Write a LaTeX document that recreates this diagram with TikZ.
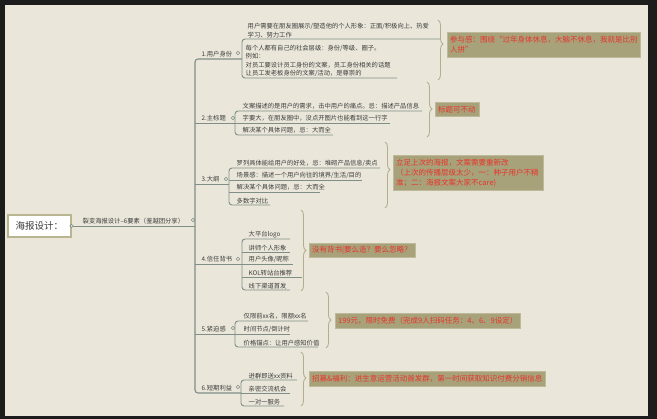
\documentclass[tikz,border=0pt]{standalone}
\usepackage{fontspec}
\setmainfont{Noto Sans CJK SC}
\usetikzlibrary{decorations.pathreplacing}
\definecolor{bgc}{HTML}{EAE7DA}
\definecolor{framec}{HTML}{1C1C1C}
\definecolor{lnc}{HTML}{7F8E87}
\definecolor{txtc}{HTML}{3C3C3C}
\definecolor{boxfc}{HTML}{A8A27A}
\definecolor{boxrc}{HTML}{E8342B}
\definecolor{bracec}{HTML}{B3AF8C}
\definecolor{rootbc}{HTML}{B9B590}
\begin{document}
\begin{tikzpicture}[x=1pt,y=-1pt,
 ctext/.style={anchor=south west, inner sep=0.5pt, text=txtc, font=\fontsize{6.3}{8.4}\selectfont, align=left},
 blabel/.style={anchor=south west, inner sep=0.5pt, text=txtc, font=\fontsize{6.3}{8}\selectfont},
 uline/.style={draw=lnc, line width=0.9pt},
 knob/.style={circle, draw=lnc, fill=bgc, line width=0.6pt, inner sep=0pt, minimum size=3.4pt},
 note/.style={fill=boxfc, draw=boxfc!75!white, line width=0.4pt, text=boxrc, font=\fontsize{7.5}{10}\selectfont, align=left, inner xsep=3pt, inner ysep=2pt, anchor=north west},
 bracep/.style={draw=bracec, line width=0.9pt, decorate},
 rootbox/.style={draw=rootbc, line width=1.2pt, fill=white, minimum width=63pt, minimum height=22pt, inner sep=2pt, text=txtc, font=\fontsize{9.5}{11}\selectfont},
]
\useasboundingbox (0,0) rectangle (657,419);
\fill[framec] (0,0) rectangle (657,419);
\fill[bgc] (5,5) rectangle (648,416);

% root
\node[rootbox] (root) at (39.5,226) {海报设计：};
\node[blabel] (sub) at (82,225) {裂变海报设计--6要素（鉴越团分享）};
\draw[uline] (root.east) -- (195,226);
\node[knob] (k0) at (root.east) {};
\node[knob] (ks) at (193,220) {};

% spine
\draw[uline, line width=1.1pt, rounded corners=3pt] (242,59) -| (195,393) -- (241,393);
\draw[uline] (195,123) -- (235,123);
\draw[uline] (195,184) -- (229,184);
\draw[uline] (195,264) -- (242,264);
\draw[uline] (195,334) -- (235,334);

% branch labels
\node[blabel] (b1) at (201,58) {1.用户身份};
\node[knob] at (238,53) {};
\node[blabel] (b2) at (201,122) {2.主标题};
\node[knob] at (233,118) {};
\node[blabel] (b3) at (201,183) {3.大纲};
\node[knob] at (226,179) {};
\node[blabel] (b4) at (201,263) {4.信任背书};
\node[knob] at (238,259) {};
\node[blabel] (b5) at (201,333) {5.紧迫感};
\node[knob] at (233,328) {};
\node[blabel] (b6) at (201,392) {6.短期利益};
\node[knob] at (238,387) {};

% branch 1
\draw[uline, rounded corners=3pt] (440,39) -| (242,78) -- (397,78);
\node[ctext] (c11) at (247,38.3) {用户需要在朋友圈展示/塑造他的个人形象：正面/积极向上、热爱\\学习、努力工作};
\node[ctext] (c12) at (245,77.3) {每个人都有自己的社会层级：身份/等级、圈子。\\例如：\\对员工要设计员工身份的文案，员工身份相关的话题\\让员工发老板身份的文案/活动，是尊崇的};
\draw[bracep, decoration={brace, amplitude=5pt, aspect=0.4}] (438,20) -- (438,80);
\node[note, text width=187pt, minimum height=25pt] (n1) at (447,32) {参与感：围绕“过年身体休息，大脑不休息，我就是比别\\人拼”};

% branch 2
\draw[uline, rounded corners=3pt] (422,111) -| (235,135) -- (333,135);
\draw[uline] (235,123) -- (390,123);
\node[ctext] (c21) at (242,110.3) {文案描述的是用户的需求，击中用户的痛点。忌：描述产品信息};
\node[ctext] (c22) at (242,122.3) {字要大，在朋友圈中，没点开图片也能看到这一行字};
\node[ctext] (c23) at (242,134.3) {解决某个具体问题，忌：大而全};
\draw[bracep, decoration={brace, amplitude=5pt, aspect=0.49}] (427,82) -- (427,137);
\node[note, minimum height=14pt] (n2) at (435,102) {标题可不动};

% branch 3
\draw[uline, rounded corners=3pt] (380,168) -| (229,205) -- (270,205);
\draw[uline] (229,180) -- (362,180);
\draw[uline] (229,192) -- (320,192);
\node[ctext] (c31) at (236,167.3) {罗列具体能给用户的好处，忌：堆砌产品信息/卖点};
\node[ctext] (c32) at (236,179.3) {场景感：描述一个用户向往的境界/生活/目的};
\node[ctext] (c33) at (236,191.3) {解决某个具体问题，忌：大而全};
\node[ctext] (c34) at (236,204.3) {多数字对比};
\draw[bracep, decoration={brace, amplitude=5pt, aspect=0.42}] (385,142) -- (385,208);
\node[note, text width=144pt, minimum height=35pt] (n3) at (393,155) {立足上次的海报，文案需要重新改\\（上次的传播层级太少，一：种子用户不精\\准；二：海报文案大家不care)};

% branch 4
\draw[uline, rounded corners=3pt] (290,239) -| (242,290) -- (290,290);
\draw[uline] (242,252) -- (290,252);
\draw[uline] (242,264) -- (293,264);
\draw[uline] (242,277) -- (302,277);
\node[ctext] (c41) at (248,238.3) {大平台logo};
\node[ctext] (c42) at (248,251.3) {讲师个人形象};
\node[ctext] (c43) at (248,263.3) {用户头像/昵称};
\node[ctext] (c44) at (248,276.3) {KOL转站台推荐};
\node[ctext] (c45) at (248,289.3) {线下渠道首发};
\draw[bracep, decoration={brace, amplitude=5pt, aspect=0.5}] (301,210) -- (301,291);
\node[note, minimum height=14pt] (n4) at (309,243) {没有背书|要么造？要么忽略？};

% branch 5
\draw[uline, rounded corners=3pt] (308,321) -| (235,347) -- (318,347);
\draw[uline] (235,334) -- (290,334);
\node[ctext] (c51) at (243,320.3) {仅限前xx名，限额xx名};
\node[ctext] (c52) at (243,333.3) {时间节点/倒计时};
\node[ctext] (c53) at (243,346.3) {价格锚点：让用户感知价值};
\draw[bracep, decoration={brace, amplitude=5pt, aspect=0.5}] (326,292) -- (326,348);
\node[note, minimum height=15pt] (n5) at (335,313) {199元，限时免费（完成9人扫码任务：4、6、9设定）};

% branch 6
\draw[uline, rounded corners=3pt] (297,380) -| (241,406) -- (284,406);
\draw[uline] (241,393) -- (290,393);
\node[ctext] (c61) at (248,379.3) {进群即送xx资料};
\node[ctext] (c62) at (248,392.3) {亲密交流机会};
\node[ctext] (c63) at (248,405.3) {一对一服务};
\draw[bracep, decoration={brace, amplitude=5pt, aspect=0.48}] (301,352) -- (301,406);
\node[note, minimum height=15pt] (n6) at (309,371) {招募\&福利：进生意运营活动首发群，第一时间获取知识付费分销信息};
\end{tikzpicture}
\end{document}
